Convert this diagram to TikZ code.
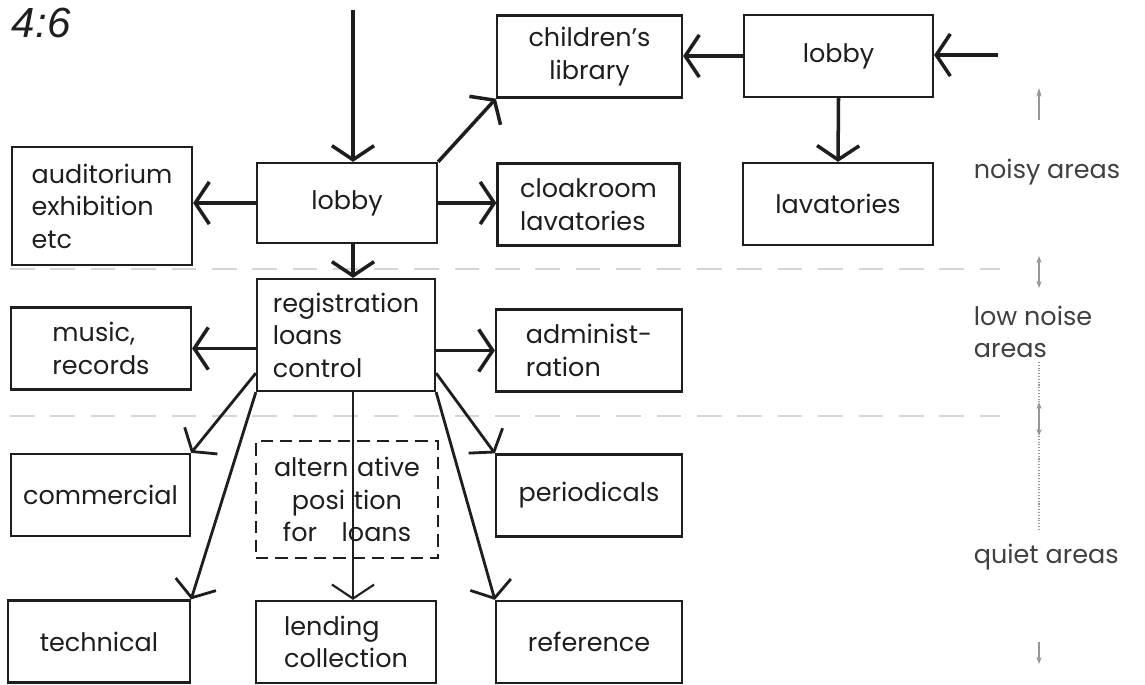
\documentclass[tikz,border=0pt]{standalone}
\usepackage{fontspec}
\setmainfont{Poppins}
\newfontfamily\figfont{Liberation Sans}
\usepackage{tikz}
\usetikzlibrary{arrows.meta, calc}
\definecolor{inkdark}{RGB}{30,30,30}
\definecolor{zonegray}{RGB}{150,150,150}

\begin{document}
\begin{tikzpicture}[x=0.02cm, y=-0.02cm,
  every node/.style={font=\fontsize{14.5}{18.5}\selectfont, inner sep=2pt, text=inkdark},
  room/.style={draw=inkdark, line width=1.3pt, minimum width=3.64cm, minimum height=1.64cm, align=left},
  maybe/.style={room, line width=1.1pt, dash pattern=on 7pt off 4pt, align=center},
  flow/.style={-{Straight Barb[length=8pt,width=24pt]}, line width=2pt, draw=inkdark},
  thinflow/.style={flow, line width=1.6pt},
  zone/.style={draw=zonegray!40, line width=0.8pt, dash pattern=on 14pt off 9pt},
  dimline/.style={draw=zonegray, line width=0.6pt},
  zonelabel/.style={anchor=west, align=left, text=inkdark!85}]
  \useasboundingbox (0,0) rectangle (1145,685);

  % zone borders
  \draw[zone] (10,269) -- (1000,269);
  \draw[zone] (10,416) -- (1000,416);

  \node[anchor=base west, font=\figfont\itshape\fontsize{24}{24}\selectfont] (title) at (8,38) {4:6};

  % noisy areas
  \node[room, minimum width=3.6cm, minimum height=1.6cm, align=center] (lobby) at (347,203) {lobby};
  \node[room, minimum width=3.6cm, minimum height=2.36cm] (aud) at (102,206) {auditorium\\exhibition\\etc};
  \node[room, minimum width=3.7cm, align=center] (child) at (589.5,56.5) {children's\\library};
  \node[room, minimum width=3.78cm, align=center] (lobbyb) at (838.5,56) {lobby};
  \node[room] (cloak) at (588.5,204.5) {cloakroom\\lavatories};
  \node[room, minimum width=3.8cm, align=center] (lav) at (838,204) {lavatories};

  % low noise areas
  \node[room, minimum width=3.56cm, minimum height=2.24cm] (reg) at (346,335) {registration\\loans\\control};
  \node[room, minimum width=3.6cm] (music) at (101,348.5) {music,\\records};
  \node[room, minimum width=3.72cm] (admin) at (589,350.5) {administ-\\ration};

  % quiet areas
  \node[room, minimum width=3.58cm, align=center] (comm) at (100.5,495) {commercial};
  \node[maybe, minimum width=3.64cm, minimum height=2.34cm] (alt) at (347,499.5)
    {altern\hspace{5pt}ative\\posi\hspace{5pt}tion\\for\hspace{14pt}loans};
  \node[room, minimum width=3.72cm, align=center] (per) at (589,495.5) {periodicals};
  \node[room, align=center] (tech) at (99,641.5) {technical};
  \node[room, minimum width=3.6cm] (lend) at (346,642) {lending\\collection};
  \node[room, minimum width=3.72cm, align=center] (ref) at (589,642) {reference};

  % routes
  \coordinate (topin) at (353,10);
  \coordinate (eastin) at (998,55);
  \coordinate (spine) at (353,0);
  \draw[flow] (topin) -- (topin |- lobby.north);
  \draw[flow] (lobby.north east) -- (child.south west);
  \draw[flow] (lobby.west) -- (lobby.west -| aud.east);
  \draw[flow] (lobby.east) -- (lobby.east -| cloak.west);
  \draw[flow] (lobby.south -| spine) -- (reg.north -| spine);
  \draw[flow] (lobbyb.west) -- (lobbyb.west -| child.east);
  \draw[flow] (eastin) -- (eastin -| lobbyb.east);
  \draw[flow] (lobbyb.south) -- (lav.north);
  \draw[flow] (reg.west |- music) -- (music.east);
  \draw[flow] (reg.east |- admin) -- (admin.west);
  \draw[thinflow] ($(reg.south west)+(0,-19)$) -- (comm.north east);
  \draw[thinflow] (reg.south west) -- (tech.north east);
  \draw[thinflow] ($(reg.south east)+(0,-19)$) -- (per.north west);
  \draw[thinflow] (reg.south east) -- (ref.north west);
  \draw[thinflow, line width=1.2pt] (reg.south -| spine) -- (lend.north -| spine);

  % noise scale
  \draw[dimline, -{Stealth[length=5pt,width=3pt]}] (1039,120) -- (1039,88);
  \draw[dimline, {Stealth[length=4pt,width=3pt]}-{Stealth[length=4pt,width=3pt]}] (1039,256) -- (1039,288);
  \draw[dimline, densely dotted] (1039,362) -- (1039,402);
  \draw[dimline, {Stealth[length=4pt,width=3pt]}-{Stealth[length=4pt,width=3pt]}] (1039,402) -- (1039,436);
  \draw[dimline, densely dotted] (1039,436) -- (1039,530);
  \draw[dimline, -{Stealth[length=4pt,width=3pt]}] (1039,642) -- (1039,664);
  \node[zonelabel] (noisy) at (970,172) {noisy areas};
  \node[zonelabel] (lownoise) at (970,332) {low noise\\areas};
  \node[zonelabel] (quiet) at (970,557) {quiet areas};
\end{tikzpicture}
\end{document}
